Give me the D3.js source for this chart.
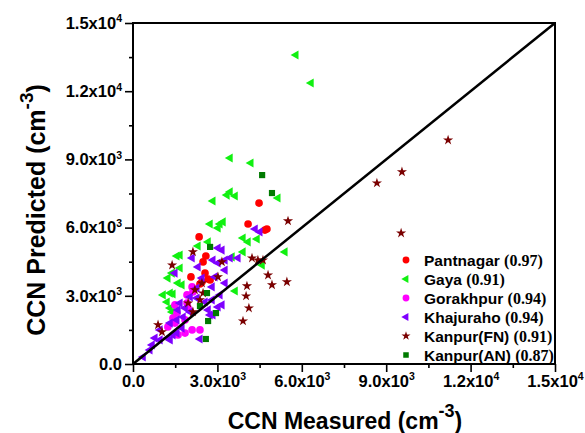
<!DOCTYPE html>
<html>
<head>
<meta charset="utf-8">
<script src="https://cdn.jsdelivr.net/npm/d3@7"></script>
<style>
  body { margin: 0; background: #fff; }
  svg { display: block; font-family: "Liberation Sans", Arial, sans-serif; font-weight: bold; }
  svg text { font-weight: bold; }
</style>
</head>
<body>
<script>
const W = 585, H = 433;
const M = { l: 133, r: 30, t: 23, b: 69 };

const sites = ["Pantnagar", "Gaya", "Gorakhpur", "Khajuraho", "Kanpur(FN)", "Kanpur(AN)"];
const rValues = ["(0.97)", "(0.91)", "(0.94)", "(0.94)", "(0.91)", "(0.87)"];
const colors = ["#ff0000", "#11f011", "#ff00ff", "#7f00ff", "#7a0000", "#007a00"];

const majorTicks = [0, 3000, 6000, 9000, 12000, 15000];
const minorTicks = [1500, 4500, 7500, 10500, 13500];
const tickLabels = [["0.0", ""], ["3.0x10", "3"], ["6.0x10", "3"], ["9.0x10", "3"], ["1.2x10", "4"], ["1.5x10", "4"]];

// [CCN measured, CCN predicted] in cm^-3
const pantnagar = [[4480,7080],[4090,6160],[4690,5890],[4760,5940],[2350,5590],[2590,4750],[2490,4490],
  [2060,3830],[2560,4000],[2670,3740],[2450,3610],[2740,3700],[2380,3520]];
const gaya = [[5790,13590],[6330,12360],[3450,9060],[4190,8840],[2840,7170],[3450,7570],[3340,7430],
  [3630,7390],[5150,7300],[2740,6160],[3090,6160],[3200,6250],[3020,5980],[3910,5540],[4090,5370],
  [4410,5500],[2670,5370],[2310,5190],[3910,4930],[1560,4750],[1670,4790],[3520,4710],[5400,4930],
  [4590,4350],[1670,4220],[1390,4000],[1240,3780],[1600,3560],[1740,3480],[1320,3120],[1420,3080],
  [1210,2730],[1390,2290],[3630,3210],[1070,3040],[1320,2460]];
const gorakhpur = [[2100,3390],[2130,3170],[1490,2600],[1920,2680],[1960,2460],[1240,1630],[1490,1800],
  [2100,1500],[2380,1500],[1850,1360],[1600,1280],[1560,2240],[1420,2020],[1850,1940],[1920,3040]];
const khajuraho = [[4340,5940],[4510,5810],[3020,5100],[3160,5010],[2840,4570],[3270,4570],[3020,4440],
  [3450,4660],[3730,4660],[2310,4270],[1490,4000],[3270,4130],[2910,3830],[3270,3560],[2810,3390],
  [2270,3340],[3090,3040],[2030,2950],[2270,2900],[2810,2820],[1670,2680],[1850,2460],[2030,2290],
  [2670,2380],[3020,2510],[1780,2070],[1560,1940],[1320,1800],[960,1500],[780,1140],[1240,1140],
  [1560,1360],[2380,1100],[2840,2160],[2100,4660],[2450,3780],[2560,2730],[3160,2600],[1600,2380],
  [2740,2160],[1740,1580],[1320,1060],[960,1060],[680,840],[600,620],[360,310],[1420,1280]];
const kanpurFN = [[11200,9850],[9560,8450],[8670,7960],[9530,5760],[5510,6290],[5470,3610],[2130,4930],
  [1390,4350],[4230,4660],[4440,4570],[4620,4570],[3160,4490],[3020,3830],[4800,3910],[4940,3480],
  [4050,3430],[4020,2990],[4120,2460],[3910,1890],[2450,3560],[2490,3120],[2380,2820],[1960,2680],
  [2130,2290],[890,1720],[1030,1410],[2200,3260]];
const kanpurAN = [[4590,8310],[4940,7520],[2740,5150],[2630,3120],[2380,2550],[2950,2240],[2670,1890],[2590,1100]];

const seriesData = [pantnagar, gaya, gorakhpur, khajuraho, kanpurFN, kanpurAN];
const shapes = ["circle", "triangle", "circle", "triangle", "star", "square"];

const x = d3.scaleLinear().domain([0, 15000]).range([M.l, W - M.r]);
const y = d3.scaleLinear().domain([0, 15000]).range([H - M.b, M.t]);

const svg = d3.select("body").append("svg").attr("width", W).attr("height", H);

function symbolPath(shape, size) {
  const type = shape === "star" ? d3.symbolStar : shape === "square" ? d3.symbolSquare
    : shape === "triangle" ? d3.symbolTriangle : d3.symbolCircle;
  return d3.symbol().type(type).size(size)();
}
const sizes = { circle: 46, triangle: 36, star: 32, square: 38 };

function superLabels(sel) {
  sel.selectAll(".tick text").each(function (d) {
    const t = d3.select(this).text("");
    const lab = tickLabels[majorTicks.indexOf(d)];
    t.append("tspan").text(lab[0]);
    if (lab[1]) t.append("tspan").style("font-size", "10.5px").attr("dy", "-0.6em").text(lab[1]);
  });
}

// axes
const xAxis = d3.axisBottom(x).tickValues(majorTicks).tickSize(8).tickPadding(3).tickFormat(d => d);
const yAxis = d3.axisLeft(y).tickValues(majorTicks).tickSize(8).tickPadding(3).tickFormat(d => d);

svg.append("g").attr("transform", `translate(0,${H - M.b})`).call(xAxis).call(superLabels);
svg.append("g").attr("transform", `translate(${M.l},0)`).call(yAxis).call(superLabels);

svg.append("g").attr("transform", `translate(0,${H - M.b})`)
  .call(d3.axisBottom(x).tickValues(minorTicks).tickSize(4).tickFormat(""));
svg.append("g").attr("transform", `translate(${M.l},0)`)
  .call(d3.axisLeft(y).tickValues(minorTicks).tickSize(4).tickFormat(""));

svg.selectAll(".domain").remove();
svg.selectAll(".tick line").attr("stroke", "#000").attr("stroke-width", 1.6);
svg.selectAll(".tick text").attr("fill", "#000")
  .style("font-size", "16.5px").style("font-weight", "bold")
  .style("font-family", '"Liberation Sans", Arial, sans-serif');

// frame
svg.append("rect")
  .attr("x", x(0)).attr("y", y(15000))
  .attr("width", x(15000) - x(0)).attr("height", y(0) - y(15000))
  .attr("fill", "none").attr("stroke", "#000").attr("stroke-width", 2);

// points
seriesData.forEach((data, i) => {
  const shape = shapes[i];
  svg.append("g").selectAll("path").data(data).join("path")
    .attr("d", symbolPath(shape, sizes[shape]))
    .attr("transform", d => `translate(${x(d[0])},${y(d[1])})` + (shape === "triangle" ? " rotate(-90)" : ""))
    .attr("fill", colors[i]);
});

// 1:1 line
svg.append("line")
  .attr("x1", x(0)).attr("y1", y(0)).attr("x2", x(15000)).attr("y2", y(15000))
  .attr("stroke", "#000").attr("stroke-width", 2.5);

// legend
const lg = svg.append("g");
sites.forEach((s, i) => {
  const ly = 260 + i * 19;
  const shape = shapes[i];
  lg.append("path")
    .attr("d", symbolPath(shape, sizes[shape] * 0.8))
    .attr("transform", `translate(406,${ly})` + (shape === "triangle" ? " rotate(-90)" : ""))
    .attr("fill", colors[i]);
  const t = lg.append("text").attr("x", 424).attr("y", ly + 5.5).style("font-size", "15.5px");
  t.append("tspan").text(s + " ");
  t.append("tspan").style("font-family", '"Liberation Serif", "Times New Roman", serif')
    .style("font-size", "16px").text(rValues[i]);
});

// axis titles
const xt = svg.append("text").attr("x", 345).attr("y", 429).attr("text-anchor", "middle").style("font-size", "23px");
xt.append("tspan").text("CCN Measured (cm");
xt.append("tspan").attr("dy", -12).style("font-size", "18px").text("-3");
xt.append("tspan").attr("dy", 12).text(")");

const yt = svg.append("text").attr("transform", "translate(45,210) rotate(-90)")
  .attr("text-anchor", "middle").style("font-size", "25px");
yt.append("tspan").text("CCN Predicted (cm");
yt.append("tspan").attr("dy", -12).style("font-size", "19px").text("-3");
yt.append("tspan").attr("dy", 12).text(")");
</script>
</body>
</html>
